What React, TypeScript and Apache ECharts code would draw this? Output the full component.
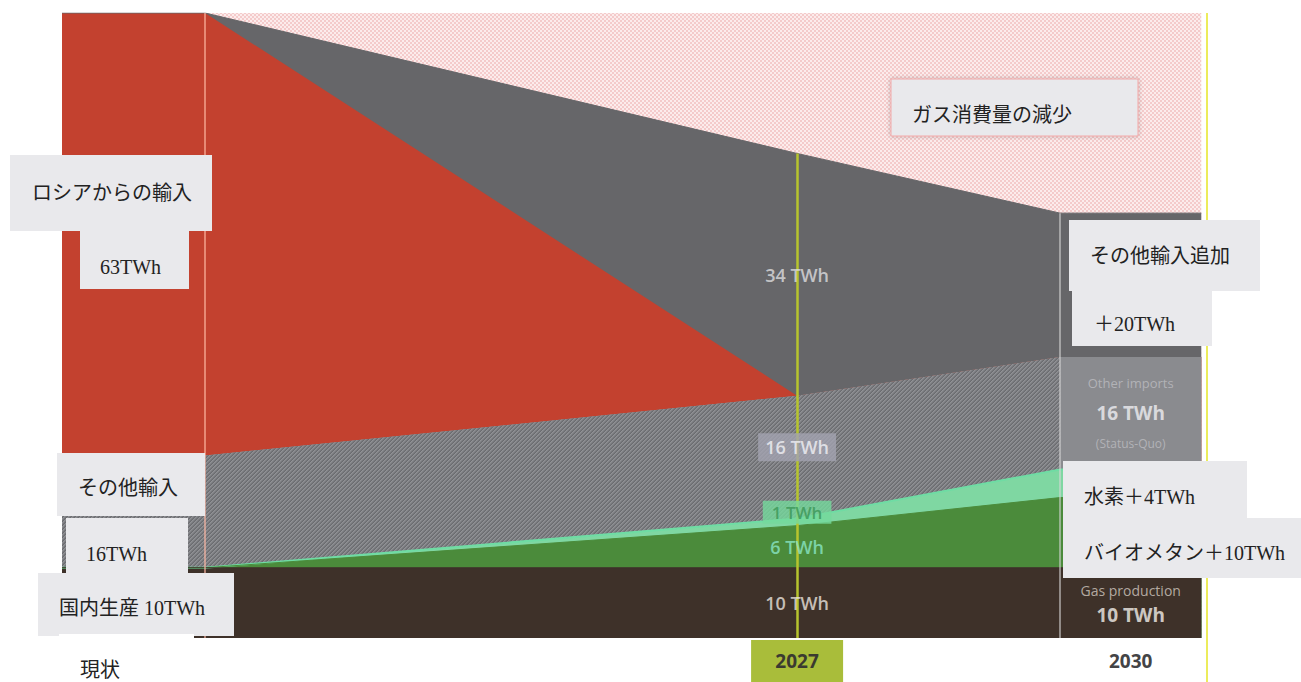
import React, { useEffect, useRef } from 'react';
import * as echarts from 'echarts';

// ---- data (TWh) ----
// x positions of the schematic timeline: left edge of "現状" column, today, 2027, start of 2030 block (twice: step), right edge
const stagePos = [0, 1, 5.136, 6.974, 6.974, 7.96];
const productionTWh = [10, 10, 10, 10, 10, 10];
const biomethaneTWh = [0, 0, 6, 10, 10, 10];
const hydrogenTWh = [0, 0, 1, 4, 4, 4];
const otherImportsTWh = [16, 16, 17.5, 16, 0, 0];
const otherImportsBlockTWh = [0, 0, 0, 0, 16, 16];
const russiaTWh = [63, 63, 0, 0, 0, 0];
const additionalImportsTWh = [0, 0, 34.5, 20.5, 20.5, 20.5];
const reductionTWh = [0, 0, 20, 28.5, 28.5, 28.5];

const yearLabels = ['2027', '2030'];
const valueLabels2027 = ['34 TWh', '16 TWh', '1 TWh', '6 TWh', '10 TWh'];
const blockOtherLabels = ['Other imports', '16 TWh', '(Status-Quo)'];
const blockProdLabels = ['Gas production', '10 TWh'];

const annotations = [
  { x: 10, y: 155, w: 202, h: 76, tx: 32, ty: 193, text: 'ロシアからの輸入' },
  { x: 80, y: 231, w: 109, h: 58, tx: 100, ty: 267, text: '63TWh' },
  { x: 57, y: 453, w: 148, h: 63, tx: 78, ty: 488, text: 'その他輸入' },
  { x: 66, y: 518, w: 122, h: 55, tx: 86, ty: 554, text: '16TWh' },
  { x: 38, y: 573, w: 196, h: 63, tx: 59, ty: 608, text: '国内生産 10TWh' },
  { x: 59, y: 634, w: 135, h: 48, tx: 80, ty: 670, text: '現状', fill: '#ffffff' },
  { x: 891, y: 79, w: 247, h: 57, tx: 912, ty: 115, text: 'ガス消費量の減少', stroke: '#f2a9a9' },
  { x: 1069, y: 220, w: 191, h: 71, tx: 1090, ty: 256, text: 'その他輸入追加' },
  { x: 1072, y: 291, w: 140, h: 55, tx: 1094, ty: 324, text: '＋20TWh' },
  { x: 1063, y: 461, w: 184, h: 57, tx: 1084, ty: 497, text: '水素＋4TWh' },
  { x: 1063, y: 518, w: 238, h: 60, tx: 1084, ty: 553, text: 'バイオメタン＋10TWh' },
];

const layers = [
  productionTWh,
  biomethaneTWh,
  hydrogenTWh,
  otherImportsTWh,
  otherImportsBlockTWh,
  russiaTWh,
  additionalImportsTWh,
  reductionTWh,
];

function base(i: number, n: number) {
  let s = 0;
  for (let k = 0; k < n; k++) s += layers[k][i];
  return s;
}
function mid(i: number, n: number) {
  return base(i, n) + layers[n][i] / 2;
}

function makePattern(size: number, pick: (x: number, y: number) => string) {
  const c = document.createElement('canvas');
  c.width = size;
  c.height = size;
  const ctx = c.getContext('2d')!;
  for (let y = 0; y < size; y++) {
    for (let x = 0; x < size; x++) {
      ctx.fillStyle = pick(x, y);
      ctx.fillRect(x, y, 1, 1);
    }
  }
  return { image: c.toDataURL(), repeat: 'repeat', imageWidth: size, imageHeight: size } as any;
}

const SERIF = "'Liberation Serif', 'Noto Sans CJK JP', serif";
const SANS = "'Open Sans', 'Noto Sans', sans-serif";

export default function App() {
  const ref = useRef<HTMLDivElement>(null);

  useEffect(() => {
    if (!ref.current) return;
    const chart = echarts.init(ref.current, undefined, { renderer: 'svg' });

    const hatch = makePattern(4, (x, y) => {
      const k = (x + y) % 4;
      return ['#909195', '#85868a', '#76777b', '#6b6c70'][k];
    });
    const checker = makePattern(4, (x, y) =>
      ((x >> 1) + (y >> 1)) % 2 === 0 ? '#f4cbcb' : '#fcecec'
    );

    // each band is drawn as an area from 0 up to its cumulative top; drawn top-most first
    const band = (name: string, layerIdx: number, color: any, lineColor: string, lineWidth = 1) => ({
      name,
      type: 'line',
      symbol: 'none',
      silent: true,
      z: 2,
      data: stagePos.map((x, i) => [x, base(i, layerIdx + 1)]),
      lineStyle: { width: lineWidth, color: lineColor },
      areaStyle: { color, opacity: 1, origin: 'start' },
    });

    const x2027 = stagePos[2];
    const xBlock = (stagePos[4] + stagePos[5]) / 2;
    const top2027 = base(2, 7);
    const top2030 = base(5, 7);
    const total = base(0, 8);

    const labelData = [
      {
        value: [x2027, mid(2, 6)],
        label: { formatter: valueLabels2027[0], color: '#dedee0', fontSize: 18, fontWeight: 600 },
      },
      {
        value: [x2027, base(2, 3) + otherImportsTWh[2] / 2],
        label: {
          formatter: valueLabels2027[1],
          color: '#f2f2f6',
          fontSize: 18,
          fontWeight: 600,
          backgroundColor: '#a3a3b0',
          padding: [5, 7],
          offset: [0, -10],
        },
      },
      {
        value: [x2027, mid(2, 2)],
        label: {
          formatter: valueLabels2027[2],
          color: '#3a9656',
          fontSize: 17,
          fontWeight: 600,
          backgroundColor: '#74da9c',
          padding: [3, 9],
          offset: [0, -10],
        },
      },
      {
        value: [x2027, mid(2, 1)],
        label: { formatter: valueLabels2027[3], color: '#8ae6c6', fontSize: 18, fontWeight: 600 },
      },
      {
        value: [x2027, mid(2, 0)],
        label: { formatter: valueLabels2027[4], color: '#ebe5df', fontSize: 18, fontWeight: 600 },
      },
      {
        value: [xBlock, mid(5, 4)],
        label: {
          formatter: `{a|${blockOtherLabels[0]}}\n{b|${blockOtherLabels[1]}}\n{c|${blockOtherLabels[2]}}`,
          rich: {
            a: { fontSize: 13, color: '#bdbdc1', lineHeight: 30, fontFamily: SANS },
            b: { fontSize: 19, fontWeight: 'bold', color: '#f0f0f3', lineHeight: 30, fontFamily: SANS },
            c: { fontSize: 12, color: '#bdbdc1', lineHeight: 30, fontFamily: SANS },
          },
        },
      },
      {
        value: [xBlock, mid(5, 0)],
        label: {
          formatter: `{a|${blockProdLabels[0]}}\n{b|${blockProdLabels[1]}}`,
          rich: {
            a: { fontSize: 14, color: '#d3cac1', lineHeight: 25, fontFamily: SANS },
            b: { fontSize: 19, fontWeight: 'bold', color: '#f5f1ed', lineHeight: 25, fontFamily: SANS },
          },
        },
      },
    ];

    const graphic: any[] = annotations.map((a) => ({
      type: 'group',
      z: 100,
      children: [
        {
          type: 'rect',
          z: 100,
          shape: { x: a.x, y: a.y, width: a.w, height: a.h },
          style: {
            fill: a.fill || '#e9e9ec',
            stroke: a.stroke || null,
            lineWidth: a.stroke ? 1 : 0,
            shadowBlur: a.stroke ? 4 : 0,
            shadowColor: 'rgba(0,0,0,0.25)',
          },
        },
        {
          type: 'text',
          z: 101,
          x: a.tx,
          y: a.ty,
          style: {
            text: a.text,
            fill: '#222222',
            font: `20px ${SERIF}`,
            textAlign: 'left',
            textVerticalAlign: 'middle',
          },
        },
      ],
    }));
    graphic.push({
      type: 'line',
      z: 90,
      shape: { x1: 1207, y1: 13, x2: 1207, y2: 682 },
      style: { stroke: '#ecec5c', lineWidth: 2 },
    });

    chart.setOption({
      animation: false,
      grid: { left: 62, right: 94, top: 13, bottom: 44 },
      xAxis: {
        type: 'value',
        min: 0,
        max: 8,
        axisLine: { show: false },
        axisTick: { show: false },
        splitLine: { show: false },
        axisLabel: {
          show: true,
          margin: 2,
          customValues: [x2027, xBlock],
          formatter: (v: number) =>
            Math.abs(v - x2027) < 1e-6 ? `{a|${yearLabels[0]}}` : `{b|${yearLabels[1]}}`,
          rich: {
            a: {
              backgroundColor: '#a9bd3a',
              width: 92,
              height: 42,
              lineHeight: 42,
              align: 'center',
              fontSize: 19,
              fontWeight: 'bold',
              color: '#3a3a30',
              fontFamily: SANS,
            },
            b: {
              height: 42,
              lineHeight: 42,
              fontSize: 19,
              fontWeight: 'bold',
              color: '#444446',
              fontFamily: SANS,
            },
          },
        },
      },
      yAxis: {
        type: 'value',
        min: 0,
        max: total,
        show: false,
        splitLine: { show: false },
      },
      series: [
        band('Reduction of gas consumption', 7, checker, '#f8e0e0', 0),
        band('Additional imports', 6, '#666669', '#666669'),
        band('Russian imports', 5, '#c3412f', '#c3412f', 0),
        band('Other imports (2030)', 4, '#8a8b8f', '#8a8b8f', 0),
        band('Other imports', 3, hatch, '#7e7f83', 0),
        band('Hydrogen', 2, '#7fd7a2', '#6fdca4', 2),
        band('Biomethane', 1, '#4b8b3b', '#4b8b3b'),
        band('Gas production', 0, '#3e3129', '#3e3129'),
        {
          type: 'scatter',
          silent: true,
          z: 5,
          symbolSize: 0,
          label: { show: true, position: 'inside', fontFamily: SANS },
          data: labelData,
          markLine: {
            silent: true,
            symbol: 'none',
            label: { show: false },
            data: [
              [
                { coord: [stagePos[1], 0], lineStyle: { color: 'rgba(255,185,165,0.6)', width: 2, type: 'solid' } },
                { coord: [stagePos[1], total] },
              ],
              [
                { coord: [stagePos[3], 0], lineStyle: { color: 'rgba(215,215,215,0.55)', width: 2, type: 'solid' } },
                { coord: [stagePos[3], top2030] },
              ],
              [
                { coord: [x2027, 0], lineStyle: { color: '#b7c42e', width: 2.5, type: 'solid' } },
                { coord: [x2027, top2027] },
              ],
            ],
          },
        },
      ],
      graphic,
    });

    return () => chart.dispose();
  }, []);

  return (
    <div
      ref={ref}
      style={{ position: 'absolute', left: 0, top: 0, width: 1301, height: 682, background: '#ffffff' }}
    />
  );
}
